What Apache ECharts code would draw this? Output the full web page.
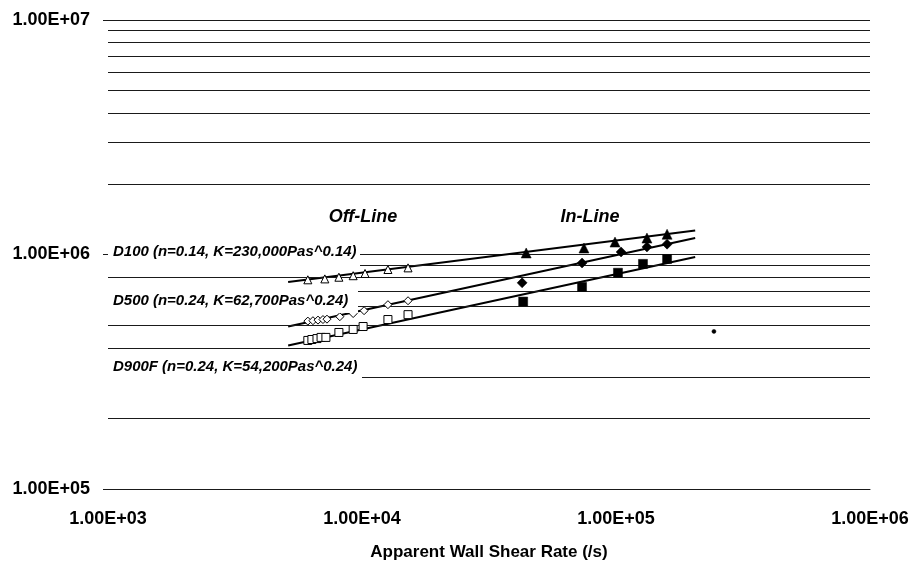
<!DOCTYPE html>
<html>
<head>
<meta charset="utf-8">
<script src="https://cdn.jsdelivr.net/npm/echarts@6/dist/echarts.min.js"></script>
<style>
  html, body { margin: 0; padding: 0; background: #fff; }
  #chart { width: 913px; height: 566px; }
</style>
</head>
<body>
<div id="chart"></div>
<script>
// Apparent wall shear rate (1/s) vs apparent wall shear stress (Pa), log-log

// Off-line capillary measurements
const d100OffLine = [
  [6120, 7.80e5], [7140, 7.87e5], [8110, 8.00e5], [9230, 8.12e5],
  [10280, 8.30e5], [12650, 8.63e5], [15180, 8.77e5]
];
const d500OffLine = [
  [6120, 5.20e5], [6410, 5.22e5], [6710, 5.25e5], [7020, 5.28e5],
  [7280, 5.30e5], [8180, 5.43e5], [9230, 5.60e5], [10190, 5.76e5],
  [12650, 6.11e5], [15180, 6.35e5]
];
const d900fOffLine = [
  [6120, 4.30e5], [6350, 4.34e5], [6650, 4.38e5], [6900, 4.43e5],
  [7210, 4.43e5], [8110, 4.65e5], [9230, 4.79e5], [10100, 4.93e5],
  [12650, 5.28e5], [15180, 5.54e5]
];

// In-line rheometer measurements
const d100InLine = [
  [44300, 1.015e6], [74800, 1.066e6], [99100, 1.13e6], [132400, 1.175e6], [158900, 1.22e6]
];
const d500InLine = [
  [42700, 7.57e5], [73500, 9.20e5], [104700, 1.025e6], [132400, 1.077e6], [158900, 1.107e6]
];
const d900fInLine = [
  [43100, 6.30e5], [73500, 7.28e5], [101800, 8.36e5], [127700, 9.12e5], [158900, 9.57e5]
];
const strayPoint = [[243000, 4.70e5]];

// Power-law fit lines (end points)
const fitD100 = [[5120, 7.64e5], [205000, 1.265e6]];
const fitD500 = [[5120, 4.93e5], [205000, 1.175e6]];
const fitD900F = [[5120, 4.09e5], [205000, 9.75e5]];

// Axis labels
const xTickLabels = { 3: '1.00E+03', 4: '1.00E+04', 5: '1.00E+05', 6: '1.00E+06' };
const yTickLabels = { 5: '1.00E+05', 6: '1.00E+06', 7: '1.00E+07' };
const xAxisTitle = 'Apparent Wall Shear Rate (/s)';

// Minor horizontal grid values (2..9 within each decade)
const yMinorGrid = [
  2e5, 3e5, 4e5, 5e5, 6e5, 7e5, 8e5, 9e5,
  2e6, 3e6, 4e6, 5e6, 6e6, 7e6, 8e6, 9e6
];

// Annotation texts
const fitLabels = [
  'D100 (n=0.14, K=230,000Pas^0.14)',
  'D500 (n=0.24, K=62,700Pas^0.24)',
  'D900F (n=0.24, K=54,200Pas^0.24)'
];
const groupLabels = ['Off-Line', 'In-Line'];

const FONT = '"Liberation Sans", Arial, Helvetica, sans-serif';
const INK = '#000';
const GRID = '#1a1a1a';

const chart = echarts.init(document.getElementById('chart'), null, { renderer: 'canvas' });

function tickLabel(map) {
  return function (v) {
    const e = Math.round(Math.log10(v));
    return map[e] || '';
  };
}

function fitSeries(data) {
  return {
    type: 'line', data: data, symbol: 'none', silent: true, z: 3,
    lineStyle: { color: INK, width: 2 }
  };
}

function pointSeries(data, symbol, size, filled) {
  return {
    type: 'scatter', data: data, symbol: symbol, symbolSize: size, z: 5, silent: true,
    itemStyle: filled
      ? { color: INK, borderColor: INK, borderWidth: 0.5, opacity: 1 }
      : { color: '#fff', borderColor: INK, borderWidth: 1, opacity: 1 }
  };
}

const boxes = [
  { y: 244, h: 26, w: 252, text: fitLabels[0], ty: 252 },
  { y: 287, h: 26, w: 250, text: fitLabels[1], ty: 301 },
  { y: 357, h: 27, w: 254, text: fitLabels[2], ty: 367 }
];

const graphics = [];
boxes.forEach(function (b) {
  graphics.push({
    type: 'rect', z: 50, silent: true,
    shape: { x: 108, y: b.y, width: b.w, height: b.h },
    style: { fill: '#fff' }
  });
  graphics.push({
    type: 'text', z: 51, silent: true, x: 113, y: b.ty,
    scaleX: 1.07, originX: 0, originY: 0,
    style: {
      text: b.text, fill: INK, font: 'italic bold 14px ' + FONT,
      textAlign: 'left', textVerticalAlign: 'middle'
    }
  });
});
graphics.push({
  type: 'text', z: 51, silent: true, x: 363, y: 217,
  style: { text: groupLabels[0], fill: INK, font: 'italic bold 18px ' + FONT,
    textAlign: 'center', textVerticalAlign: 'middle' }
});
graphics.push({
  type: 'text', z: 51, silent: true, x: 590, y: 217,
  style: { text: groupLabels[1], fill: INK, font: 'italic bold 18px ' + FONT,
    textAlign: 'center', textVerticalAlign: 'middle' }
});

const option = {
  backgroundColor: '#fff',
  animation: false,
  textStyle: { fontFamily: FONT },
  grid: { left: 108, right: 43, top: 20, bottom: 74, containLabel: false },
  xAxis: {
    type: 'log', logBase: 10, min: 1e3, max: 1e6,
    name: xAxisTitle, nameLocation: 'middle', nameGap: 55,
    nameTextStyle: { fontSize: 17, fontWeight: 'bold', color: INK, fontFamily: FONT },
    axisLine: { show: true, lineStyle: { color: GRID, width: 1 } },
    axisTick: { show: false },
    axisLabel: {
      formatter: tickLabel(xTickLabels), fontSize: 18, fontWeight: 'bold',
      color: INK, margin: 21, fontFamily: FONT, showMinLabel: true, showMaxLabel: true
    },
    splitLine: { show: false },
    minorTick: { show: false },
    minorSplitLine: { show: false }
  },
  yAxis: {
    type: 'log', logBase: 10, min: 1e5, max: 1e7,
    axisLine: { show: false },
    axisTick: { show: true, length: 5, inside: false, lineStyle: { color: GRID } },
    axisLabel: {
      formatter: tickLabel(yTickLabels), fontSize: 18, fontWeight: 'bold',
      color: INK, margin: 18, fontFamily: FONT
    },
    splitLine: { show: true, lineStyle: { color: GRID, width: 1 } },
    minorTick: { show: false },
    minorSplitLine: { show: false }
  },
  series: [
    {
      type: 'line', data: [], silent: true, z: 1,
      markLine: {
        silent: true, symbol: 'none', animation: false,
        label: { show: false },
        lineStyle: { color: GRID, width: 1, type: 'solid', opacity: 1 },
        emphasis: { disabled: true },
        data: yMinorGrid.map(function (v) { return { yAxis: v }; })
      }
    },
    fitSeries(fitD100),
    fitSeries(fitD500),
    fitSeries(fitD900F),
    pointSeries(d100OffLine, 'triangle', 8, false),
    pointSeries(d500OffLine, 'diamond', 8, false),
    pointSeries(d900fOffLine, 'rect', 8, false),
    pointSeries(d100InLine, 'triangle', 10, true),
    pointSeries(d500InLine, 'diamond', 10, true),
    pointSeries(d900fInLine, 'rect', 9, true),
    pointSeries(strayPoint, 'circle', 4, true)
  ],
  graphic: graphics
};

chart.setOption(option);
</script>
</body>
</html>
